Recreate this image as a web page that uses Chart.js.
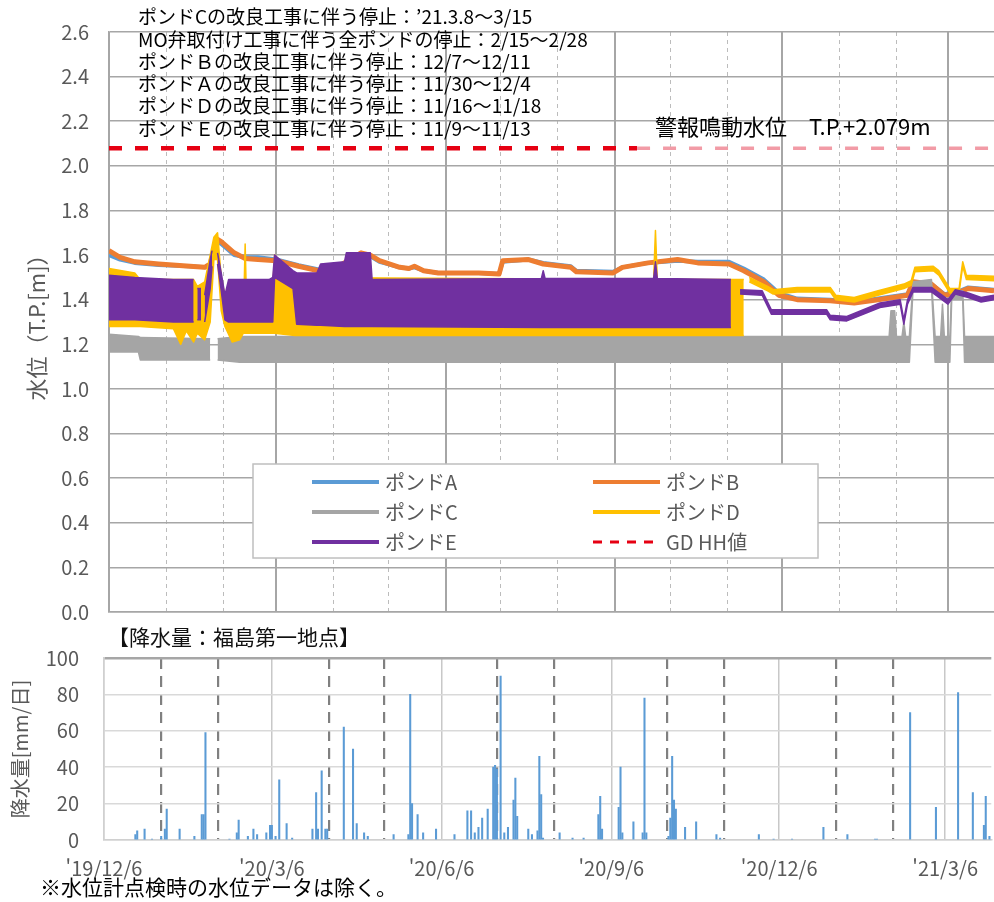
<!DOCTYPE html>
<html lang="ja">
<head>
<meta charset="UTF-8">
<title>ポンド水位と降水量</title>
<script src="https://cdn.jsdelivr.net/npm/chart.js@4.4.1/dist/chart.umd.min.js"></script>
<style>
    html, body { margin: 0; padding: 0; background: #fff; }
    #wrap { position: relative; width: 994px; height: 902px; overflow: hidden; }
    #levelChart { position: absolute; left: 0; top: 0; }
    #rainChart { position: absolute; left: 0; top: 620px; }
</style>
</head>
<body>
<div id="wrap">
    <canvas id="levelChart" width="994" height="644"></canvas>
    <canvas id="rainChart" width="994" height="282"></canvas>
</div>
<script>
// ============================ データ ============================
const axisStart = '2019-12-06';
const axisEnd = '2021-03-31';

// 月ごとの目盛（3か月ごとに実線・ラベル）
const monthTicks = ['2019-12-06', '2020-01-06', '2020-02-06', '2020-03-06', '2020-04-06', '2020-05-06',
    '2020-06-06', '2020-07-06', '2020-08-06', '2020-09-06', '2020-10-06', '2020-11-06',
    '2020-12-06', '2021-01-06', '2021-02-06', '2021-03-06'];
const quarterTicks = ['2019-12-06', '2020-03-06', '2020-06-06', '2020-09-06', '2020-12-06', '2021-03-06'];
const quarterLabels = ["'19/12/6", "'20/3/6", "'20/6/6", "'20/9/6", "'20/12/6", "'21/3/6"];

// ポンドA・B（単線）
const abDates = ['2019-12-06', '2019-12-12', '2019-12-20', '2020-01-02', '2020-01-19', '2020-01-27', '2020-01-30',
    '2020-02-01', '2020-02-03', '2020-02-05', '2020-02-12', '2020-02-18', '2020-02-25', '2020-03-06', '2020-03-18',
    '2020-03-29', '2020-04-03', '2020-04-11', '2020-04-21', '2020-04-26', '2020-05-01', '2020-05-12', '2020-05-17',
    '2020-05-20', '2020-05-25', '2020-06-02', '2020-06-24', '2020-07-05', '2020-07-07', '2020-07-21', '2020-07-29',
    '2020-08-13', '2020-08-16', '2020-09-05', '2020-09-10', '2020-09-24', '2020-10-10', '2020-10-21', '2020-11-07',
    '2020-11-15', '2020-11-26', '2020-11-30', '2020-12-04', '2020-12-14', '2021-01-01', '2021-01-14', '2021-01-27',
    '2021-02-12', '2021-02-15', '2021-02-25', '2021-03-04', '2021-03-11', '2021-03-17', '2021-03-31'];
const pondA = [1.60, 1.58, 1.565, 1.555, 1.55, 1.545, 1.555, 1.61, 1.66, 1.65, 1.60, 1.59, 1.59, 1.58, 1.555,
    1.535, 1.54, 1.56, 1.605, 1.595, 1.57, 1.545, 1.54, 1.545, 1.53, 1.52, 1.52, 1.515, 1.57, 1.58, 1.565,
    1.55, 1.53, 1.525, 1.545, 1.565, 1.575, 1.57, 1.57, 1.54, 1.49, 1.46, 1.43, 1.405, 1.40, 1.39, 1.405,
    1.425, 1.48, 1.47, 1.425, 1.435, 1.455, 1.445];
const pondB = [1.62, 1.59, 1.57, 1.56, 1.55, 1.545, 1.56, 1.62, 1.67, 1.66, 1.61, 1.585, 1.58, 1.575, 1.55,
    1.53, 1.535, 1.56, 1.61, 1.60, 1.575, 1.545, 1.54, 1.55, 1.53, 1.52, 1.52, 1.515, 1.575, 1.58, 1.56,
    1.545, 1.525, 1.52, 1.545, 1.565, 1.58, 1.565, 1.56, 1.53, 1.48, 1.45, 1.42, 1.40, 1.395, 1.385, 1.40,
    1.42, 1.48, 1.47, 1.42, 1.43, 1.45, 1.44];

// ポンドC（変動幅の上端・下端）
const cDates = ['2019-12-06', '2019-12-22', '2019-12-23', '2020-01-30', '2020-01-31', '2020-02-03', '2020-02-15',
    '2021-02-02', '2021-02-03', '2021-02-05', '2021-02-06', '2021-02-09', '2021-02-10', '2021-02-11', '2021-02-13',
    '2021-02-15', '2021-02-25', '2021-02-27', '2021-03-02', '2021-03-03', '2021-03-04', '2021-03-07', '2021-03-08',
    '2021-03-14', '2021-03-15', '2021-03-31'];
const pondCHigh = [1.245, 1.235, 1.23, 1.225, null, 1.225, 1.235, 1.235, 1.35, 1.35, 1.235, 1.235, 1.30, 1.235, 1.235,
    1.48, 1.49, 1.235, 1.235, 1.38, 1.235, 1.235, 1.44, 1.44, 1.235, 1.235];
const pondCLow = [1.165, 1.165, 1.13, 1.13, null, 1.13, 1.12, 1.12, 1.12, 1.12, 1.12, 1.12, 1.12, 1.12, 1.12,
    1.45, 1.46, 1.12, 1.12, 1.12, 1.12, 1.12, 1.40, 1.40, 1.12, 1.12];

// ポンドD
const dDates = ['2019-12-06', '2019-12-20', '2019-12-23', '2020-01-10', '2020-01-14', '2020-01-17', '2020-01-21',
    '2020-01-23', '2020-01-27', '2020-01-30', '2020-02-01', '2020-02-03', '2020-02-05', '2020-02-07', '2020-02-11',
    '2020-02-15', '2020-02-17', '2020-02-18', '2020-02-19', '2020-03-03', '2020-03-05', '2020-03-16', '2020-09-27',
    '2020-09-28', '2020-09-29', '2020-11-15', '2020-11-16', '2020-11-18', '2020-11-28', '2020-12-01', '2020-12-14',
    '2021-01-01', '2021-01-04', '2021-01-14', '2021-01-27', '2021-02-10', '2021-02-14', '2021-02-16', '2021-02-26',
    '2021-03-01', '2021-03-07', '2021-03-12', '2021-03-14', '2021-03-16', '2021-03-31'];
const pondDHigh = [1.54, 1.52, 1.49, 1.49, 1.49, 1.49, 1.49, 1.46, 1.48, 1.60, 1.68, 1.70, 1.50, 1.42, 1.35,
    1.33, 1.30, 1.65, 1.30, 1.31, 1.60, 1.50, 1.49, 1.71, 1.49, 1.49, null, 1.50, 1.46, 1.445, 1.455,
    1.455, 1.42, 1.41, 1.44, 1.47, 1.485, 1.545, 1.55, 1.53, 1.45, 1.45, 1.57, 1.51, 1.505];
const pondDLow = [1.28, 1.28, 1.28, 1.27, 1.20, 1.26, 1.21, 1.25, 1.22, 1.30, 1.58, 1.58, 1.35, 1.28, 1.21,
    1.22, 1.25, 1.25, 1.25, 1.25, 1.25, 1.24, 1.24, 1.24, 1.24, 1.24, null, 1.48, 1.44, 1.425, 1.435,
    1.435, 1.40, 1.39, 1.42, 1.45, 1.465, 1.525, 1.53, 1.51, 1.43, 1.43, 1.55, 1.49, 1.485];

// ポンドE
const eDates = ['2019-12-06', '2019-12-20', '2020-01-10', '2020-01-21', '2020-01-22', '2020-01-23', '2020-01-25',
    '2020-01-26', '2020-01-27', '2020-01-30', '2020-01-31', '2020-02-01', '2020-02-03', '2020-02-05', '2020-02-07',
    '2020-02-09', '2020-03-02', '2020-03-04', '2020-03-05', '2020-03-15', '2020-03-17', '2020-03-28', '2020-03-30',
    '2020-04-12', '2020-04-13', '2020-04-26', '2020-04-27', '2020-07-28', '2020-07-29', '2020-07-30', '2020-09-27',
    '2020-09-28', '2020-09-29', '2020-11-08', '2020-11-09', '2020-11-13', '2020-11-25', '2020-11-30', '2020-12-30',
    '2021-01-01', '2021-01-10', '2021-01-28', '2021-02-08', '2021-02-10', '2021-02-12', '2021-02-15', '2021-02-25',
    '2021-03-06', '2021-03-10', '2021-03-17', '2021-03-24', '2021-03-31'];
const pondEHigh = [1.51, 1.50, 1.49, 1.49, null, 1.45, 1.45, null, 1.42, 1.58, 1.62, null, 1.61, 1.52, 1.42,
    1.49, 1.49, 1.50, 1.60, 1.53, 1.52, 1.52, 1.56, 1.57, 1.61, 1.61, 1.49, 1.495, 1.53, 1.495, 1.495,
    1.57, 1.495, 1.49, null, 1.445, 1.44, 1.355, 1.355, 1.33, 1.325, 1.385, 1.40, 1.31, 1.40, 1.455, 1.455,
    1.40, 1.445, 1.43, 1.41, 1.42];
const pondELow = [1.31, 1.31, 1.30, 1.30, null, 1.31, 1.31, null, 1.30, 1.45, 1.55, null, 1.56, 1.44, 1.31,
    1.30, 1.30, 1.30, 1.50, 1.45, 1.29, 1.285, 1.285, 1.28, 1.28, 1.28, 1.28, 1.275, 1.275, 1.275, 1.275,
    1.275, 1.275, 1.275, null, 1.425, 1.42, 1.335, 1.335, 1.31, 1.305, 1.365, 1.38, 1.29, 1.38, 1.435, 1.435,
    1.38, 1.425, 1.41, 1.39, 1.40];

// GD HH値（警報鳴動水位）
const ghDates = ['2019-12-06', '2020-09-18', '2021-03-31'];
const ghLevel = [2.079, 2.079, 2.079];

// 降水量（福島第一）
const rainDates = ['2019-12-23', '2019-12-24', '2019-12-28', '2020-01-01', '2020-01-06', '2020-01-08', '2020-01-09',
    '2020-01-16', '2020-01-24', '2020-01-28', '2020-01-29', '2020-01-30', '2020-02-12', '2020-02-16', '2020-02-17',
    '2020-02-22', '2020-02-25', '2020-02-27', '2020-03-03', '2020-03-05', '2020-03-06', '2020-03-08', '2020-03-10',
    '2020-03-14', '2020-03-17', '2020-03-28', '2020-03-30', '2020-03-31', '2020-04-02', '2020-04-04', '2020-04-05',
    '2020-04-14', '2020-04-19', '2020-04-21', '2020-04-25', '2020-04-27', '2020-05-11', '2020-05-19', '2020-05-20',
    '2020-05-21', '2020-05-24', '2020-05-27', '2020-06-03', '2020-06-13', '2020-06-20', '2020-06-22', '2020-06-24',
    '2020-06-26', '2020-06-28', '2020-07-01', '2020-07-04', '2020-07-05', '2020-07-06', '2020-07-08', '2020-07-10',
    '2020-07-12', '2020-07-15', '2020-07-16', '2020-07-17', '2020-07-23', '2020-07-25', '2020-07-28', '2020-07-29',
    '2020-07-30', '2020-07-31', '2020-08-09', '2020-08-16', '2020-08-22', '2020-08-30', '2020-08-31', '2020-09-01',
    '2020-09-10', '2020-09-11', '2020-09-12', '2020-09-18', '2020-09-23', '2020-09-24', '2020-09-25', '2020-10-07',
    '2020-10-08', '2020-10-09', '2020-10-10', '2020-10-11', '2020-10-16', '2020-10-22', '2020-11-02', '2020-11-04',
    '2020-11-25', '2020-12-03', '2020-12-13', '2020-12-30', '2021-01-12', '2021-01-27', '2021-01-28', '2021-02-15',
    '2021-03-01', '2021-03-13', '2021-03-21', '2021-03-27', '2021-03-28', '2021-03-30'];
const rainMm = [3, 5, 6, 0.5, 2, 6, 17,
    6, 2, 14, 14, 59, 0.5, 4, 11,
    2, 6, 3, 4, 8, 8, 2, 33,
    9, 1, 6, 26, 6, 38, 6, 6,
    62, 50, 9, 4, 2, 3, 3, 80,
    20, 14, 4, 6, 3, 16, 16, 4,
    7, 12, 17, 40, 41, 39, 90, 4,
    7, 22, 34, 13, 6, 3, 5, 46,
    25, 1, 4, 1, 1, 14, 24, 6,
    18, 40, 4, 10, 4, 78, 4, 2,
    12, 46, 22, 17, 7, 10, 3, 1,
    3, 0.5, 0.5, 7, 3, 0.5, 0.5, 70,
    18, 81, 26, 8, 24, 2];

const pondNames = ['ポンドA', 'ポンドB', 'ポンドC', 'ポンドD', 'ポンドE', 'GD HH値'];
const pondColors = ['#5b9bd5', '#ed7d31', '#a5a5a5', '#ffc000', '#7030a0', '#e60012'];

const stopNotes = [
    'ポンドCの改良工事に伴う停止：’21.3.8～3/15',
    'MO弁取付け工事に伴う全ポンドの停止：2/15～2/28',
    'ポンドＢの改良工事に伴う停止：12/7～12/11',
    'ポンドＡの改良工事に伴う停止：11/30～12/4',
    'ポンドＤの改良工事に伴う停止：11/16～11/18',
    'ポンドＥの改良工事に伴う停止：11/9～11/13'
];
const alarmNote = '警報鳴動水位　T.P.+2.079m';

// ============================ 共通 ============================
const FONT = '"Noto Sans CJK JP", "Noto Sans", sans-serif';
Chart.defaults.font.family = FONT;

function toDay(s) {
    const [y, m, d] = s.split('-').map(Number);
    return (Date.UTC(y, m - 1, d) - Date.UTC(2019, 11, 6)) / 86400000;
}

function toPoints(dates, values) {
    return dates.map((d, i) => ({ x: toDay(d), y: values[i] }));
}

const monthDays = monthTicks.map(toDay);
const quarterDays = quarterTicks.map(toDay);
const isQuarter = c => !!(c.tick && quarterDays.includes(c.tick.value));

// 任意テキストを描くプラグイン
const freeTextPlugin = {
    id: 'freeText',
    afterDraw(chart, args, opts) {
        const ctx = chart.ctx;
        ctx.save();
        ctx.textAlign = 'left';
        ctx.textBaseline = 'middle';
        (opts.items || []).forEach(t => {
            ctx.font = t.size + 'px ' + FONT;
            ctx.fillStyle = t.color || '#000';
            ctx.fillText(t.text, t.x, t.y);
        });
        ctx.restore();
    }
};

// グラフ内の凡例
const pondLegendPlugin = {
    id: 'pondLegend',
    afterDatasetsDraw(chart, args, opts) {
        if (!opts.items) return;
        const ctx = chart.ctx;
        const b = opts.box;
        ctx.save();
        ctx.fillStyle = '#fff';
        ctx.fillRect(b.x, b.y, b.w, b.h);
        ctx.strokeStyle = '#bfbfbf';
        ctx.lineWidth = 1.5;
        ctx.strokeRect(b.x, b.y, b.w, b.h);
        ctx.textAlign = 'left';
        ctx.textBaseline = 'middle';
        ctx.font = '20px ' + FONT;
        opts.items.forEach((it, i) => {
            const x = opts.colX[i % 2];
            const y = opts.rowY[Math.floor(i / 2)];
            ctx.beginPath();
            ctx.strokeStyle = it.color;
            ctx.lineWidth = it.width;
            ctx.setLineDash(it.dash || []);
            ctx.moveTo(x, y);
            ctx.lineTo(x + opts.lineLen, y);
            ctx.stroke();
            ctx.setLineDash([]);
            ctx.fillStyle = '#595959';
            ctx.fillText(it.text, x + opts.lineLen + 6, y);
        });
        ctx.restore();
    }
};

// ============================ 水位グラフ ============================
const levelDatasets = [];

levelDatasets.push({
    label: pondNames[5],
    data: toPoints(ghDates, ghLevel),
    borderColor: pondColors[5],
    borderWidth: 4.5,
    borderDash: [13, 13],
    fill: false,
    order: 0,
    segment: {
        borderColor: c => c.p0DataIndex === 0 ? '#e60012' : '#f29ba6',
        borderWidth: c => c.p0DataIndex === 0 ? 4.5 : 3.5
    }
});

// 上端と下端の間を塗りつぶす
function addBand(label, color, dates, high, low, order) {
    const highIndex = levelDatasets.length;
    levelDatasets.push({
        label: label, data: toPoints(dates, high),
        borderColor: color, borderWidth: 1.5, fill: false, order: order
    });
    levelDatasets.push({
        label: label, data: toPoints(dates, low),
        borderColor: color, backgroundColor: color, borderWidth: 1.5,
        fill: highIndex, order: order
    });
}

addBand(pondNames[4], pondColors[4], eDates, pondEHigh, pondELow, 1);
addBand(pondNames[3], pondColors[3], dDates, pondDHigh, pondDLow, 2);
addBand(pondNames[2], pondColors[2], cDates, pondCHigh, pondCLow, 3);

levelDatasets.push({
    label: pondNames[1], data: toPoints(abDates, pondB),
    borderColor: pondColors[1], borderWidth: 5, fill: false, order: 4
});
levelDatasets.push({
    label: pondNames[0], data: toPoints(abDates, pondA),
    borderColor: pondColors[0], borderWidth: 4, fill: false, order: 5
});

new Chart(document.getElementById('levelChart'), {
    type: 'line',
    data: { datasets: levelDatasets },
    plugins: [pondLegendPlugin, freeTextPlugin],
    options: {
        responsive: false,
        animation: false,
        layout: { padding: { top: 32, right: 0, bottom: 0, left: 0 } },
        elements: {
            point: { radius: 0 },
            line: { tension: 0, borderJoinStyle: 'round' }
        },
        plugins: {
            legend: { display: false },
            tooltip: { enabled: false },
            pondLegend: {
                box: { x: 253, y: 464, w: 565, h: 94 },
                colX: [312, 593],
                rowY: [482, 512, 542],
                lineLen: 67,
                items: [
                    { text: pondNames[0], color: pondColors[0], width: 4 },
                    { text: pondNames[1], color: pondColors[1], width: 4 },
                    { text: pondNames[2], color: pondColors[2], width: 4 },
                    { text: pondNames[3], color: pondColors[3], width: 4 },
                    { text: pondNames[4], color: pondColors[4], width: 4 },
                    { text: pondNames[5], color: pondColors[5], width: 3, dash: [9, 8] }
                ]
            },
            freeText: {
                items: stopNotes.map((t, i) => ({ text: t, x: 138, y: 17 + i * 22.3, size: 19, color: '#000' }))
                    .concat([{ text: alarmNote, x: 655, y: 127, size: 22, color: '#000' }])
            }
        },
        scales: {
            x: {
                type: 'linear',
                min: toDay(axisStart),
                max: toDay(axisEnd),
                afterBuildTicks: s => { s.ticks = monthDays.map(v => ({ value: v })); },
                afterFit: s => { s.height = 8; },
                ticks: { display: false },
                grid: {
                    drawTicks: false,
                    color: c => isQuarter(c) ? '#a6a6a6' : '#bcbcbc',
                    lineWidth: c => isQuarter(c) ? 2 : 1
                },
                border: {
                    color: '#a6a6a6', width: 1.5,
                    dash: c => c.tick && !isQuarter(c) ? [4, 4] : []
                }
            },
            y: {
                min: 0,
                max: 2.6,
                afterFit: s => { s.width = 109; },
                ticks: {
                    stepSize: 0.2, padding: 20, color: '#595959', font: { size: 20 },
                    callback: v => v.toFixed(1)
                },
                grid: { drawTicks: false, color: '#a6a6a6', lineWidth: 1.5 },
                border: { color: '#a6a6a6', width: 1.5 },
                title: {
                    display: true, text: '水位（T.P.[m]）', color: '#595959',
                    font: { size: 22 }, padding: { top: 23, bottom: 0 }
                }
            }
        }
    }
});

// ============================ 降水量グラフ ============================
new Chart(document.getElementById('rainChart'), {
    type: 'bar',
    data: {
        datasets: [{
            label: '降水量',
            data: toPoints(rainDates, rainMm),
            backgroundColor: '#5b9bd5',
            borderWidth: 0,
            barThickness: 1.4
        }]
    },
    plugins: [freeTextPlugin],
    options: {
        responsive: false,
        animation: false,
        layout: { padding: { top: 38, right: 0, bottom: 0, left: 0 } },
        plugins: {
            legend: { display: false },
            tooltip: { enabled: false },
            freeText: {
                items: [
                    { text: '【降水量：福島第一地点】', x: 108, y: 17, size: 21, color: '#111' },
                    { text: '※水位計点検時の水位データは除く。', x: 40, y: 267, size: 21, color: '#000' }
                ]
            }
        },
        scales: {
            x: {
                type: 'linear',
                offset: false,
                min: toDay(axisStart),
                max: toDay(axisEnd),
                afterBuildTicks: s => { s.ticks = monthDays.map(v => ({ value: v })); },
                afterFit: s => { s.height = 62; },
                ticks: {
                    autoSkip: false, maxRotation: 0, padding: 16, color: '#595959', font: { size: 20 },
                    callback: v => {
                        const i = quarterDays.indexOf(v);
                        return i >= 0 ? quarterLabels[i] : '';
                    }
                },
                grid: {
                    offset: false,
                    drawTicks: false,
                    color: c => isQuarter(c) ? '#c8c8c8' : '#808080',
                    lineWidth: c => isQuarter(c) ? 1.5 : 2.2
                },
                border: {
                    color: '#d0d0d0', width: 1.5,
                    dash: c => c.tick && !isQuarter(c) ? [11, 7] : []
                }
            },
            y: {
                min: 0,
                max: 100,
                afterFit: s => { s.width = 104; },
                ticks: { stepSize: 20, padding: 25, color: '#595959', font: { size: 20 } },
                grid: {
                    drawTicks: false,
                    color: c => c.tick && c.tick.value === 100 ? '#a6a6a6' : '#d9d9d9',
                    lineWidth: c => c.tick && c.tick.value === 100 ? 2.5 : 1.5
                },
                border: { color: '#d0d0d0', width: 1.5 },
                title: {
                    display: true, text: '降水量[mm/日]', color: '#595959',
                    font: { size: 20 }, padding: { top: 8, bottom: 0 }
                }
            }
        }
    }
});
</script>
</body>
</html>
